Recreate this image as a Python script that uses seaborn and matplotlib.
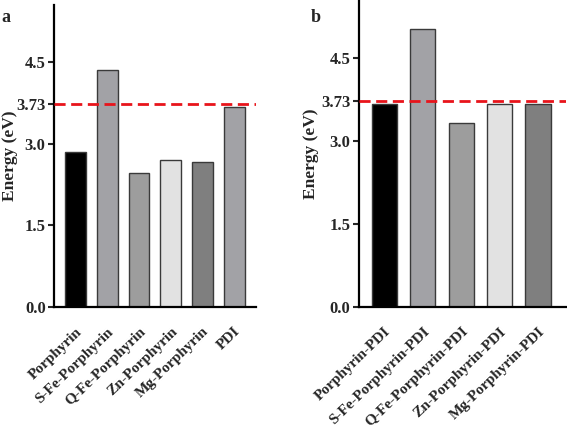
import matplotlib
matplotlib.use("Agg")
import matplotlib.pyplot as plt
import seaborn as sns
import pandas as pd

cats_a = ["Porphyrin", "S-Fe-Porphyrin", "Q-Fe-Porphyrin", "Zn-Porphyrin", "Mg-Porphyrin", "PDI"]
vals_a = [2.85, 4.35, 2.46, 2.70, 2.67, 3.67]
colors_a = ["#000000", "#a2a2a6", "#9d9d9d", "#e2e2e2", "#7f7f7f", "#a2a2a6"]

cats_b = ["Porphyrin-PDI", "S-Fe-Porphyrin-PDI", "Q-Fe-Porphyrin-PDI", "Zn-Porphyrin-PDI", "Mg-Porphyrin-PDI"]
vals_b = [3.67, 5.02, 3.33, 3.67, 3.67]
colors_b = ["#000000", "#a2a2a6", "#9d9d9d", "#e2e2e2", "#7f7f7f"]

yticks = [0.0, 1.5, 3.0, 3.73, 4.5]
ytick_labels = ["0.0", "1.5", "3.0", "3.73", "4.5"]
threshold = 3.73

sns.set_style("ticks")
plt.rcParams["font.family"] = ["Liberation Serif", "DejaVu Serif"]
plt.rcParams["font.weight"] = "bold"

fig = plt.figure(figsize=(5.67, 4.29), dpi=100)
ax_a = fig.add_axes([0.0952, 0.2844, 0.3563, 0.7036])
ax_b = fig.add_axes([0.633, 0.2844, 0.365, 0.7156])

def draw(ax, cats, vals, colors, xlim, letter, letter_x, label_x):
    df = pd.DataFrame({"cat": cats, "val": vals})
    sns.barplot(data=df, x="cat", y="val", hue="cat", palette=colors, legend=False,
                width=0.66, edgecolor="#3a3a3a", linewidth=1.0, ax=ax, saturation=1)
    ax.axhline(threshold, color="#e8141b", linestyle=(0, (4, 2)), linewidth=2.0, zorder=5)
    ax.set_xlim(*xlim)
    ax.set_ylim(0, 5.55)
    ax.set_yticks(yticks)
    ax.set_yticklabels(ytick_labels, fontsize=12, fontweight="bold")
    ax.set_xticks(range(len(cats)))
    ax.set_xticklabels(cats, rotation=44, ha="right", rotation_mode="anchor",
                       fontsize=11, fontweight="bold")
    ax.tick_params(axis="x", length=0, pad=13)
    ax.tick_params(axis="y", length=4, width=1.5, pad=2)
    ax.set_xlabel("")
    ax.set_ylabel("Energy (eV)", fontsize=12.5, fontweight="bold")
    ax.yaxis.set_label_coords(label_x, 0.5)
    for s in ["top", "right"]:
        ax.spines[s].set_visible(False)
    for s in ["left", "bottom"]:
        ax.spines[s].set_linewidth(1.6)
        ax.spines[s].set_color("black")
    fig.text(letter_x, 0.96, letter, fontsize=13, fontweight="bold", ha="left", va="center")

draw(ax_a, cats_a, vals_a, colors_a, (-0.68, 5.69), "a", 0.003, -0.178)
draw(ax_b, cats_b, vals_b, colors_b, (-0.66, 4.72), "b", 0.548, -0.193)

fig.savefig("out.png", dpi=100)
